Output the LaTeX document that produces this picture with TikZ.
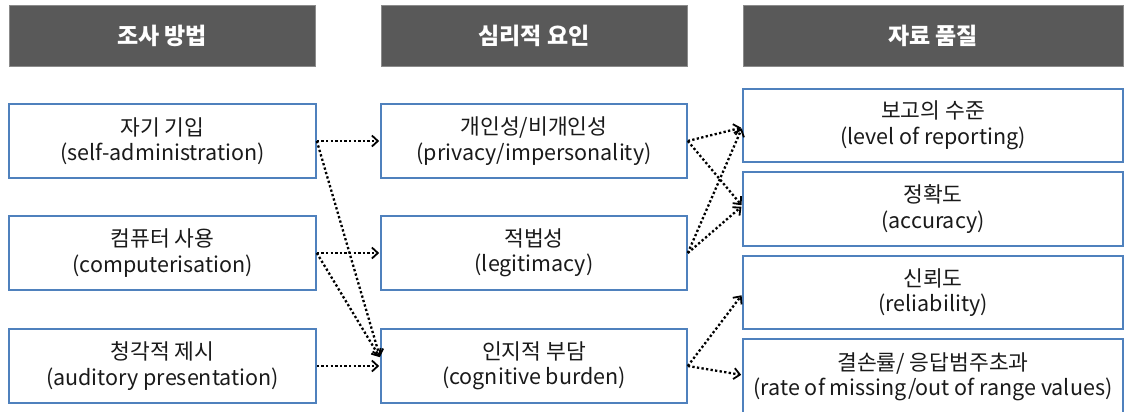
\documentclass[tikz,border=0pt]{standalone}
\usepackage{fontspec}
\setmainfont{Noto Sans CJK KR}
\usetikzlibrary{arrows.meta,calc}
\definecolor{headgray}{HTML}{595959}
\definecolor{cellblue}{HTML}{4F81BD}
\definecolor{ink}{HTML}{1A1A1A}
\tikzset{
  header/.style={fill=headgray, draw=headgray!70!white, line width=0.8pt,
    text=white, font=\fontsize{23}{26}\selectfont\bfseries,
    minimum height=61pt, inner sep=0pt},
  cell/.style={draw=cellblue, line width=1.6pt, fill=white, text=ink,
    align=center, inner sep=0pt,
    font=\fontsize{21.5}{25.5}\selectfont},
  link/.style={draw=black, line width=2.3pt, dash pattern=on 2.3pt off 2.3pt,
    -{Straight Barb[length=6pt,width=11pt,line width=1.8pt]}, shorten >=1pt}
}
\begin{document}
\begin{tikzpicture}[x=1pt,y=-1pt]
\useasboundingbox (0,0) rectangle (1124,412);
\fill[white] (0,0) rectangle (1124,412);

% column headers
\node[header, minimum width=306pt] (h1) at (162,35.5) {조사 방법};
\node[header, minimum width=306pt] (h2) at (534,35.5) {심리적 요인};
\node[header, minimum width=380pt] (h3) at (933,35.5) {자료 품질};

% survey methods
\node[cell, minimum width=307pt, minimum height=74pt] (l1) at (162.5,141) {자기 기입\\(self-administration)};
\node[cell, minimum width=307pt, minimum height=74pt] (l2) at (162.5,253) {컴퓨터 사용\\(computerisation)};
\node[cell, minimum width=307pt, minimum height=74pt] (l3) at (162.5,366) {청각적 제시\\(auditory presentation)};

% psychological factors
\node[cell, minimum width=306pt, minimum height=74pt] (m1) at (534,141) {개인성/비개인성\\(privacy/impersonality)};
\node[cell, minimum width=306pt, minimum height=74pt] (m2) at (534,253) {적법성\\(legitimacy)};
\node[cell, minimum width=306pt, minimum height=74pt] (m3) at (534,366) {인지적 부담\\(cognitive burden)};

% data quality
\node[cell, minimum width=380pt, minimum height=73pt] (r1) at (933,125.5) {보고의 수준\\(level of reporting)};
\node[cell, minimum width=380pt, minimum height=74pt] (r2) at (933,209) {정확도\\(accuracy)};
\node[cell, minimum width=380pt, minimum height=73pt] (r3) at (933,292.5) {신뢰도\\(reliability)};
\node[cell, minimum width=380pt, minimum height=76pt] (r4) at (933,377) {결손률/ 응답범주초과\\(rate of missing/out of range values)};

% methods -> factors
\draw[link] (l1.east) -- (m1.west);
\draw[link] (l2.east) -- (m2.west);
\draw[link] (l3.east) -- (m3.west);
\draw[link] (l1.east) -- ([yshift=8pt]m3.west);
\draw[link] (l2.east) -- ([yshift=8pt]m3.west);

% factors -> quality
\draw[link] (m1.east) -- ([yshift=-2pt]r1.west);
\draw[link] (m1.east) -- ([yshift=3pt]r2.west);
\draw[link] (m2.east) -- ([yshift=-2pt]r1.west);
\draw[link] (m2.east) -- ([yshift=3pt]r2.west);
\draw[link] (m3.east) -- ([yshift=-2pt]r3.west);
\draw[link] (m3.east) -- ([yshift=2pt]r4.west);
\end{tikzpicture}
\end{document}
